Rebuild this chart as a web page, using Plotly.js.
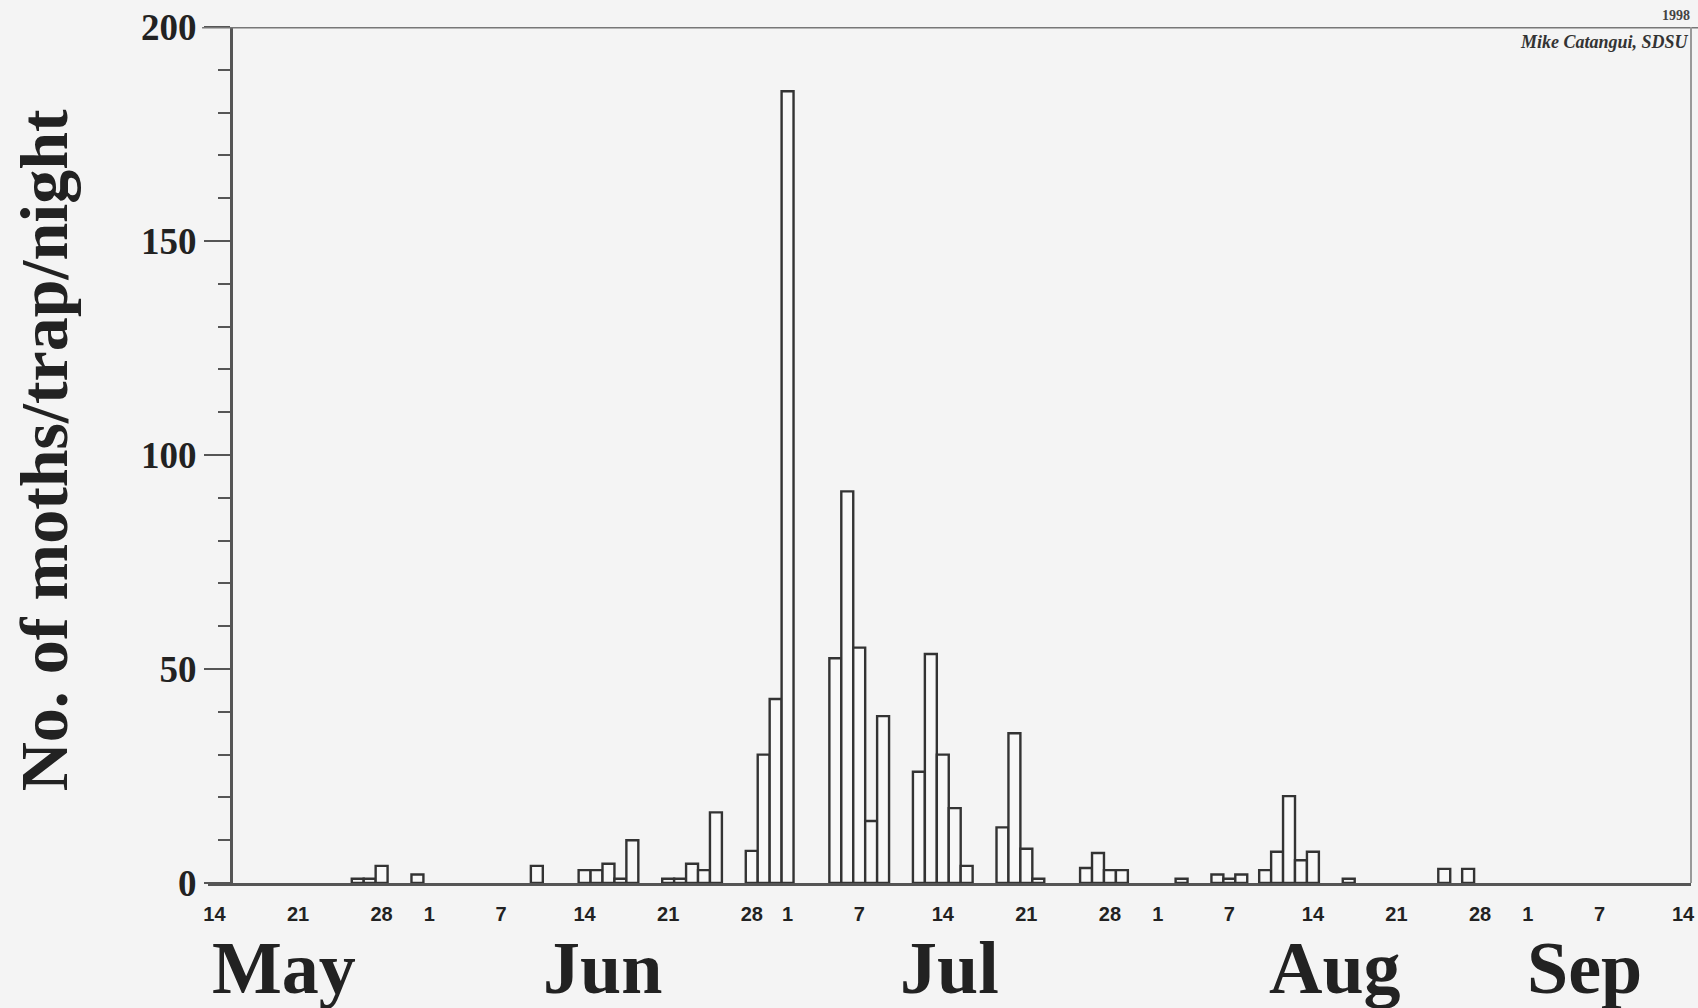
<!DOCTYPE html>
<html>
<head>
<meta charset="utf-8">
<script src="https://cdn.plot.ly/plotly-3.0.1.min.js"></script>
<style>
  html, body { margin: 0; padding: 0; background: #f4f4f4; }
  #chart { width: 1698px; height: 1008px; }
</style>
</head>
<body>
<div id="chart"></div>
<script>
// ---- data (1998 trap season) ----
const trapDates = [
  '1998-05-26','1998-05-27','1998-05-28','1998-05-31',
  '1998-06-10','1998-06-14','1998-06-15','1998-06-16','1998-06-17','1998-06-18',
  '1998-06-21','1998-06-22','1998-06-23','1998-06-24','1998-06-25',
  '1998-06-28','1998-06-29','1998-06-30','1998-07-01',
  '1998-07-05','1998-07-06','1998-07-07','1998-07-08','1998-07-09',
  '1998-07-12','1998-07-13','1998-07-14','1998-07-15','1998-07-16',
  '1998-07-19','1998-07-20','1998-07-21','1998-07-22',
  '1998-07-26','1998-07-27','1998-07-28','1998-07-29',
  '1998-08-03','1998-08-06','1998-08-07','1998-08-08',
  '1998-08-10','1998-08-11','1998-08-12','1998-08-13','1998-08-14',
  '1998-08-17','1998-08-25','1998-08-27'
];
const mothsPerTrapNight = [
  1, 1, 4, 2,
  4, 3, 3, 4.5, 1, 10,
  1, 1, 4.5, 3, 16.5,
  7.5, 30, 43, 185,
  52.5, 91.5, 55, 14.5, 39,
  26, 53.5, 30, 17.5, 4,
  13, 35, 8, 1,
  3.5, 7, 3, 3,
  1, 2, 1, 2,
  3, 7.3, 20.3, 5.3, 7.3,
  1, 3.3, 3.3
];
const tickDates = [
  '1998-05-14','1998-05-21','1998-05-28','1998-06-01','1998-06-07','1998-06-14',
  '1998-06-21','1998-06-28','1998-07-01','1998-07-07','1998-07-14','1998-07-21',
  '1998-07-28','1998-08-01','1998-08-07','1998-08-14','1998-08-21','1998-08-28',
  '1998-09-01','1998-09-07','1998-09-14'
];
const tickDayLabels = ['14','21','28','1','7','14','21','28','1','7','14','21','28','1','7','14','21','28','1','7','14'];
const monthNames = ['May','Jun','Jul','Aug','Sep'];
const yTickVals = [0, 50, 100, 150, 200];
const yTitle = 'No. of moths/trap/night';
const creditText = 'Mike Catangui, SDSU';
const yearText = '1998';

// ---- layout helpers (label placement, not data) ----
const monthLabelAt = ['1998-05-19 20:00','1998-06-15 11:00','1998-07-14 14:00','1998-08-15 20:00','1998-09-05 17:00'];
const DAY_MS = 86400000;

const trace = {
  type: 'bar',
  x: trapDates,
  y: mothsPerTrapNight,
  width: trapDates.map(() => DAY_MS),
  marker: { color: '#f8f8f8', line: { color: '#333', width: 2.4 } },
  hoverinfo: 'x+y'
};

const serif = 'Liberation Serif, Times New Roman, serif';

const annotations = monthNames.map((m, i) => ({
  text: m, x: monthLabelAt[i], xref: 'x', y: -0.099, yref: 'paper',
  xanchor: 'center', yanchor: 'middle', showarrow: false,
  font: { family: serif, size: 74, color: '#222', weight: 'bold' }
}));
annotations.push({
  text: yTitle, textangle: -90, x: -0.111, xref: 'paper', y: 0.506, yref: 'paper',
  xanchor: 'center', yanchor: 'middle', showarrow: false,
  font: { family: serif, size: 68, color: '#222', weight: 'bold' }
});
annotations.push({
  text: creditText, x: 1.0, xref: 'paper', y: 0.982, yref: 'paper',
  xanchor: 'right', yanchor: 'middle', showarrow: false,
  font: { family: serif, size: 18, color: '#333', style: 'italic', weight: 'bold' }
});
annotations.push({
  text: yearText, x: 0.979, xref: 'paper', y: 1.013, yref: 'paper',
  xanchor: 'left', yanchor: 'middle', showarrow: false,
  font: { family: serif, size: 14, color: '#444', weight: 'bold' }
});

const layout = {
  width: 1698, height: 1008,
  margin: { l: 208, r: 7, t: 27, b: 125, pad: 0 },
  paper_bgcolor: '#f4f4f4',
  plot_bgcolor: '#f4f4f4',
  showlegend: false,
  bargap: 0,
  xaxis: {
    type: 'date',
    range: ['1998-05-13 11:00', '1998-09-14 16:00'],
    tickmode: 'array',
    tickvals: tickDates,
    ticktext: tickDayLabels,
    ticks: 'outside', ticklen: 11, tickcolor: 'rgba(0,0,0,0)',
    tickfont: { family: 'Liberation Sans Narrow, Liberation Sans, Arial, sans-serif', size: 20, color: '#222', weight: 'bold' },
    showgrid: false, zeroline: false,
    showline: true, linecolor: '#555', linewidth: 3,
    fixedrange: true
  },
  yaxis: {
    range: [0, 200],
    anchor: 'free', position: 0.0155,
    tickmode: 'array', tickvals: yTickVals,
    ticks: 'outside', ticklen: 26, tickwidth: 2, tickcolor: '#555',
    minor: { dtick: 10, ticks: 'outside', ticklen: 12, tickwidth: 2, tickcolor: '#555' },
    tickfont: { family: serif, size: 37, color: '#222', weight: 'bold' },
    showgrid: false, zeroline: false,
    showline: true, linecolor: '#555', linewidth: 3,
    fixedrange: true
  },
  shapes: [
    { type: 'line', xref: 'paper', yref: 'y', x0: -0.004, x1: 1.005, y0: 200, y1: 200,
      line: { color: '#777', width: 3 } },
    { type: 'line', xref: 'paper', yref: 'y', x0: 1, x1: 1, y0: 0, y1: 200,
      line: { color: '#999', width: 2 } }
  ],
  annotations: annotations
};

Plotly.newPlot('chart', [trace], layout, { displayModeBar: false, staticPlot: true });
</script>
</body>
</html>
